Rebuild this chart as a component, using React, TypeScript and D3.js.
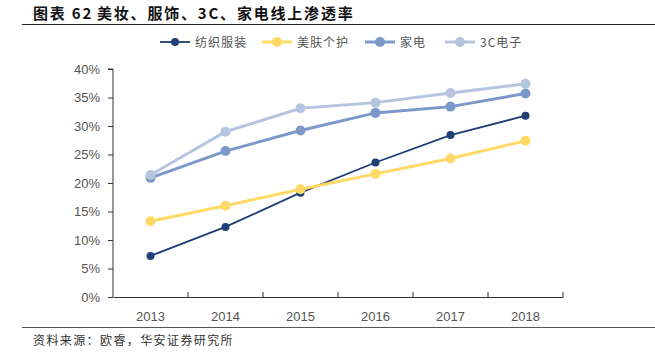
import React, { useEffect, useRef } from 'react';
import * as d3 from 'd3';

const years = ['2013', '2014', '2015', '2016', '2017', '2018'];
const apparel = [7.2, 12.3, 18.3, 23.6, 28.4, 31.8];
const beauty = [13.3, 16.0, 18.9, 21.6, 24.3, 27.4];
const appliance = [20.9, 25.6, 29.2, 32.3, 33.4, 35.7];
const electronics = [21.4, 29.0, 33.1, 34.1, 35.8, 37.4];
const yTicks = [0, 5, 10, 15, 20, 25, 30, 35, 40];

const series = [
  { name: '纺织服装', values: apparel, color: '#1f3f75', width: 1.8, r: 4 },
  { name: '美肤个护', values: beauty, color: '#ffd966', width: 3, r: 5 },
  { name: '家电', values: appliance, color: '#7b98c9', width: 3, r: 5 },
  { name: '3C电子', values: electronics, color: '#b6c5df', width: 3, r: 5 },
];

const font = '"Noto Sans CJK SC", "Liberation Sans", sans-serif';

export default function App() {
  const ref = useRef<SVGSVGElement>(null);

  useEffect(() => {
    const svg = d3.select(ref.current);
    svg.selectAll('*').remove();

    const x = d3.scaleBand().domain(years).range([113, 563]);
    const y = d3.scaleLinear().domain([0, 40]).range([297, 69]);

    // title
    const title = svg.append('text').attr('x', 33).attr('y', 19).attr('font-family', font)
      .attr('font-weight', 'bold').attr('font-size', 15).attr('fill', '#111')
      .attr('letter-spacing', 1.8);
    title.append('tspan').text('图表 62');
    title.append('tspan').attr('x', 97).text('美妆、服饰、3C、家电线上渗透率');
    svg.append('line').attr('x1', 22).attr('x2', 655).attr('y1', 24.5).attr('y2', 24.5)
      .attr('stroke', '#222').attr('stroke-width', 1);

    // axes
    const yAxis = svg.append('g').attr('transform', 'translate(113,0)')
      .call(d3.axisLeft(y).tickValues(yTicks).tickSize(5).tickFormat(d => `${d}%`));
    const xAxis = svg.append('g').attr('transform', 'translate(0,297)')
      .call(d3.axisBottom(x).tickSize(0));
    // x ticks at band boundaries
    years.forEach((yr) => {
      const bx = (x(yr) as number) + x.bandwidth();
      svg.append('line').attr('x1', bx).attr('x2', bx).attr('y1', 297).attr('y2', 292)
        .attr('stroke', '#333');
    });
    [yAxis, xAxis].forEach(g => {
      g.select('.domain').attr('stroke', '#333');
      g.selectAll('.tick line').attr('stroke', '#333');
      g.selectAll('text').attr('font-family', '"Liberation Sans", Arial, sans-serif')
        .attr('font-size', 13).attr('fill', '#555');
    });
    yAxis.select('.domain').attr('d', 'M-5,69H0V297');
    yAxis.selectAll('text').attr('x', -13);
    xAxis.selectAll('text').attr('dy', '1.6em');

    // lines
    const line = d3.line<number>()
      .x((_, i) => (x(years[i]) as number) + x.bandwidth() / 2)
      .y(d => y(d));
    series.forEach(s => {
      svg.append('path').datum(s.values).attr('d', line).attr('fill', 'none')
        .attr('stroke', s.color).attr('stroke-width', s.width);
      svg.append('g').selectAll('circle').data(s.values).join('circle')
        .attr('cx', (_, i) => (x(years[i]) as number) + x.bandwidth() / 2)
        .attr('cy', d => y(d)).attr('r', s.r).attr('fill', s.color);
    });

    // legend
    const legendX = [160, 262, 365, 445];
    series.forEach((s, i) => {
      const g = svg.append('g').attr('transform', `translate(${legendX[i]},42)`);
      g.append('line').attr('x1', 0).attr('x2', 30).attr('stroke', s.color).attr('stroke-width', s.width);
      g.append('circle').attr('cx', 15).attr('r', s.r).attr('fill', s.color);
      g.append('text').attr('x', 35).attr('y', 4.5).attr('font-family', font)
        .attr('font-size', 12).attr('letter-spacing', 1).attr('fill', '#555').text(s.name);
    });

    // footer
    svg.append('line').attr('x1', 22).attr('x2', 655).attr('y1', 327.5).attr('y2', 327.5)
      .attr('stroke', '#555').attr('stroke-width', 1);
    svg.append('text').attr('x', 33).attr('y', 345).attr('font-family', font)
      .attr('font-size', 12).attr('letter-spacing', 1.4).attr('fill', '#333')
      .text('资料来源：欧睿，华安证券研究所');
  }, []);

  return <svg ref={ref} width={655} height={359}
    style={{ position: 'absolute', left: 0, top: 0, background: '#fff' }} />;
}
